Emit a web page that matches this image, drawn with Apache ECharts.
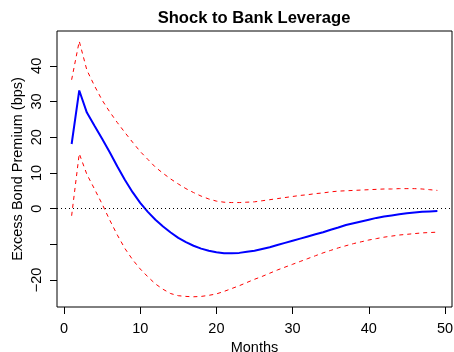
<!DOCTYPE html>
<html>
<head>
<meta charset="utf-8">
<script src="https://cdn.jsdelivr.net/npm/echarts@6/dist/echarts.min.js"></script>
<style>html,body{margin:0;padding:0;background:#fff}#c{width:454px;height:352px}</style>
</head>
<body>
<div id="c"></div>
<script>
var months = [];
for (var i = 1; i <= 49; i++) months.push(i);
var median = [18.1,33.1,26.9,23.2,19.6,15.8,11.8,8.0,4.6,1.6,-0.9,-3.1,-5.0,-6.7,-8.2,-9.4,-10.4,-11.2,-11.8,-12.2,-12.5,-12.5,-12.4,-12.1,-11.8,-11.3,-10.8,-10.2,-9.6,-9.0,-8.4,-7.8,-7.2,-6.6,-5.9,-5.3,-4.6,-4.1,-3.6,-3.1,-2.6,-2.2,-1.9,-1.6,-1.3,-1.1,-0.9,-0.8,-0.7];
var upper = [36.1,46.9,38.8,34.4,30.4,27.1,24.1,21.3,18.6,16.0,13.8,11.6,9.9,8.3,6.9,5.6,4.5,3.5,2.7,2.1,1.8,1.7,1.7,1.8,1.9,2.2,2.5,2.8,3.1,3.4,3.7,3.9,4.2,4.4,4.7,4.9,5.0,5.1,5.2,5.3,5.4,5.5,5.5,5.6,5.6,5.6,5.5,5.3,5.1];
var lower = [-2.0,15.4,9.6,5.5,1.3,-3.2,-7.4,-11.2,-14.3,-16.9,-19.1,-21.1,-22.6,-23.8,-24.4,-24.6,-24.7,-24.6,-24.3,-23.9,-23.2,-22.4,-21.6,-20.7,-19.8,-19.0,-18.1,-17.2,-16.4,-15.6,-14.8,-14.0,-13.2,-12.4,-11.7,-11.0,-10.4,-9.8,-9.3,-8.8,-8.4,-8.0,-7.7,-7.4,-7.2,-7.0,-6.8,-6.7,-6.6];
var xTicks = [0,10,20,30,40,50];
var yTicks = [-20,-10,0,10,20,30,40];
var yLabels = [-20,0,10,20,30,40];

function pairs(v){ return months.map(function(m,i){ return [m, v[i]]; }); }
var FONT = '"Liberation Sans", Arial, Helvetica, sans-serif';
var xmin = 1 - 0.04*48, xmax = 49 + 0.04*48;
var allY = upper.concat(lower);
var ylo = Math.min.apply(null, allY), yhi = Math.max.apply(null, allY);
var ymin = ylo - 0.04*(yhi-ylo), ymax = yhi + 0.04*(yhi-ylo);

var chart = echarts.init(document.getElementById('c'), null, {renderer:'canvas'});
chart.setOption({
  animation: false,
  backgroundColor: '#fff',
  textStyle: {fontFamily: FONT},
  grid: {left: 57, top: 31, width: 395, height: 276, show: true, borderColor: '#000', borderWidth: 1, backgroundColor: 'transparent', containLabel: false, outerBoundsMode: 'none'},
  graphic: [{type:'text', style:{text:'Shock to Bank Leverage', x: 254, y: 18, textAlign:'center', textVerticalAlign:'middle', font: 'bold 16.6px ' + FONT, fill:'#000'}}],
  xAxis: {
    type: 'value', min: xmin, max: xmax,
    name: 'Months', nameLocation: 'middle', nameGap: 33,
    nameTextStyle: {fontSize: 14.5, color: '#000', fontFamily: FONT},
    axisLine: {show: false, onZero: false},
    axisTick: {show: true, inside: false, length: 7, customValues: xTicks, lineStyle: {color: '#000', width: 1}},
    axisLabel: {customValues: xTicks, fontSize: 14.5, color: '#000', margin: 14, fontFamily: FONT},
    splitLine: {show: false}
  },
  yAxis: {
    type: 'value', min: ymin, max: ymax,
    name: 'Excess Bond Premium (bps)', nameLocation: 'middle', nameGap: 32, nameRotate: 90, nameMoveOverlap: false,
    nameTextStyle: {fontSize: 14.5, color: '#000', fontFamily: FONT},
    axisLine: {show: false, onZero: false},
    axisTick: {show: true, inside: false, length: 7, customValues: yTicks, lineStyle: {color: '#000', width: 1}},
    axisLabel: {customValues: yLabels, rotate: 90, fontSize: 14.5, color: '#000', margin: 13, fontFamily: FONT,
      formatter: function(v){ return String(v).replace('-', '\u2212'); }},
    splitLine: {show: false}
  },
  series: [
    {type: 'line', data: pairs(upper), showSymbol: false, symbol: 'none', lineStyle: {color: '#FF0000', width: 1, type: [4,4]}, z: 3},
    {type: 'line', data: pairs(lower), showSymbol: false, symbol: 'none', lineStyle: {color: '#FF0000', width: 1, type: [4,4]}, z: 3},
    {type: 'line', data: pairs(median), showSymbol: false, symbol: 'none', lineStyle: {color: '#0000FF', width: 2}, z: 4,
      markLine: {silent: true, symbol: ['none','none'], label: {show: false}, lineStyle: {color: '#000', width: 1, type: [1,3]}, data: [{yAxis: 0}]}}
  ]
});
</script>
</body>
</html>
